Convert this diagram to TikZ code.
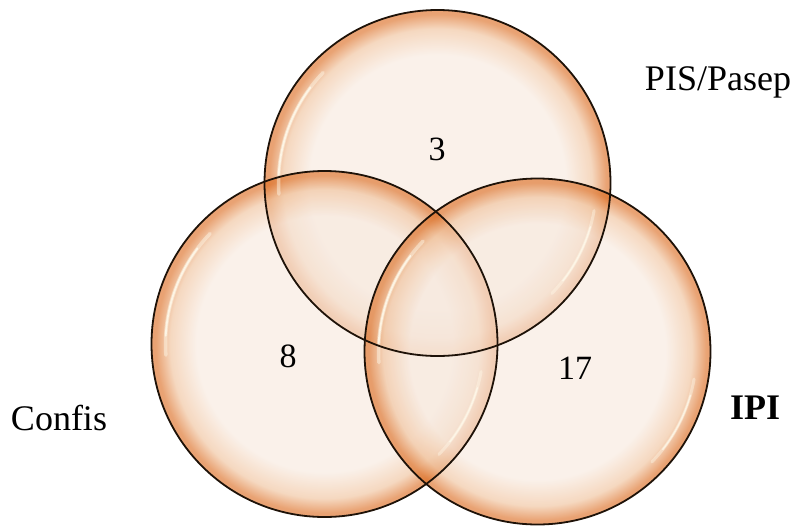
\documentclass[tikz,border=0pt]{standalone}
\usepackage{fontspec}
\setmainfont{Liberation Serif}
\definecolor{vinner}{RGB}{247,233,222}
\definecolor{vmid}{RGB}{240,194,156}
\definecolor{vouter}{RGB}{220,110,36}
\definecolor{vline}{RGB}{30,18,8}
\definecolor{vshine}{RGB}{255,250,235}
\pgfdeclareradialshading{vennshade}{\pgfpoint{0bp}{0bp}}{%
  color(0bp)=(vinner);
  color(18.5bp)=(vinner);
  color(22.3bp)=(vmid);
  color(24.4bp)=(vouter);
  color(25bp)=(vouter);
  color(50bp)=(vouter)}
\tikzset{
  vennfill/.style={shading=vennshade, fill opacity=0.64},
  vennline/.style={draw=vline, line width=1.8pt},
  shine/.style={draw=vshine, line cap=round, draw opacity=0.55},
  lbl/.style={font=\fontsize{36}{40}\selectfont, inner sep=0pt},
  num/.style={font=\fontsize{34}{38}\selectfont, inner sep=0pt},
}
\begin{document}
\begin{tikzpicture}[x=1pt,y=-1pt]
\useasboundingbox (0,0) rectangle (795,528);
\coordinate (ct) at (437.5,183);
\coordinate (cl) at (324.5,344);
\coordinate (cr) at (537.5,351.5);
\def\R{173}
\foreach \c in {ct,cl,cr}{
  \shade[vennfill] (\c) circle (\R);
}
\foreach \c in {ct,cl,cr}{
  \draw[shine, line width=3.5pt, draw opacity=0.45] ([shift={(176:159)}]\c) arc[start angle=176, end angle=224, radius=159];
  \draw[shine, line width=1.8pt, draw opacity=0.85] ([shift={(183:159)}]\c) arc[start angle=183, end angle=217, radius=159];
  \draw[shine, line width=3pt, draw opacity=0.4] ([shift={(10:159)}]\c) arc[start angle=10, end angle=44, radius=159];
  \draw[shine, line width=1.5pt, draw opacity=0.75] ([shift={(16:159)}]\c) arc[start angle=16, end angle=38, radius=159];
}
\foreach \c in {ct,cl,cr}{
  \draw[vennline] (\c) circle (\R);
}
\node[lbl] (pis) at (718,82) {PIS/Pasep};
\node[lbl] (conf) at (59,418) {Confis};
\node[lbl, font=\fontsize{36}{40}\selectfont\bfseries] (ipi) at (755,408) {IPI};
\node[num] (n3) at (437,149) {3};
\node[num] (n8) at (288,356) {8};
\node[num] (n17) at (575,368) {17};
\end{tikzpicture}
\end{document}
